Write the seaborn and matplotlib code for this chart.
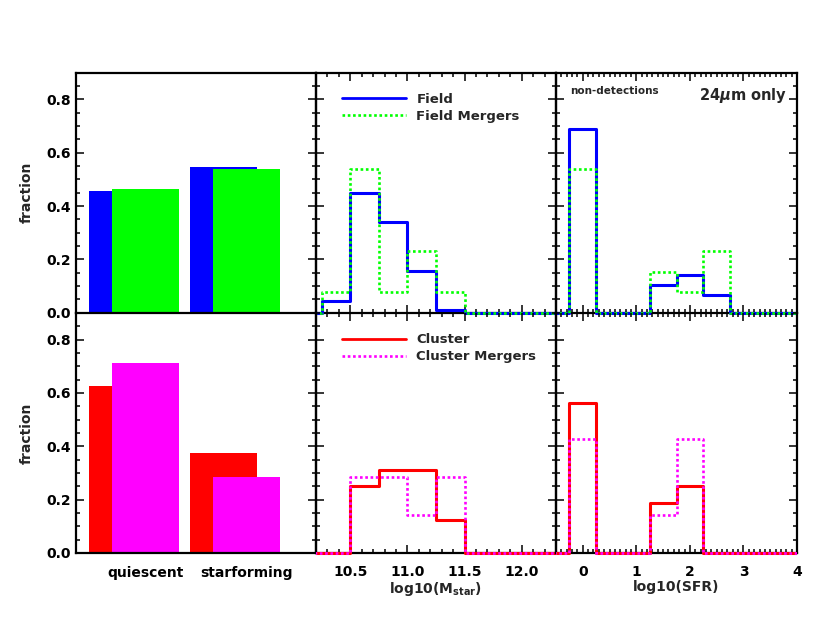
import numpy as np
import pandas as pd
import matplotlib
matplotlib.use('Agg')
import matplotlib.pyplot as plt
from matplotlib.lines import Line2D
from matplotlib.patches import Rectangle
from matplotlib.ticker import MultipleLocator, FormatStrFormatter, FixedLocator
import seaborn as sns

sns.set_style('ticks')
plt.rcParams['font.family'] = ['DejaVu Sans']
plt.rcParams['font.weight'] = 'bold'
plt.rcParams['axes.labelweight'] = 'bold'
plt.rcParams['font.size'] = 10
plt.rcParams['mathtext.fontset'] = 'custom'
plt.rcParams['mathtext.rm'] = 'DejaVu Sans:bold'
plt.rcParams['mathtext.it'] = 'DejaVu Sans:italic:bold'
plt.rcParams['mathtext.bf'] = 'DejaVu Sans:bold'

# fraction quiescent / starforming
types = ['quiescent', 'starforming']
field_type = [0.455, 0.545]
field_merg_type = [0.462, 0.538]
clus_type = [0.625, 0.375]
clus_merg_type = [0.714, 0.286]

# stellar mass histograms (bin centres, width 0.25)
mass_bins = [10.125, 10.375, 10.625, 10.875, 11.125, 11.375, 11.625, 11.875, 12.125, 12.375]
field_mass = [0.0, 0.045, 0.449, 0.341, 0.155, 0.010, 0.0, 0.0, 0.0, 0.0]
field_merg_mass = [0.0, 0.077, 0.538, 0.077, 0.231, 0.077, 0.0, 0.0, 0.0, 0.0]
clus_mass = [0.0, 0.0, 0.25, 0.3125, 0.3125, 0.125, 0.0, 0.0, 0.0, 0.0]
clus_merg_mass = [0.0, 0.0, 0.286, 0.286, 0.143, 0.286, 0.0, 0.0, 0.0, 0.0]

# SFR histograms (bin centres, width 0.5), bin 0 = non-detections
sfr_bins = [-0.5, 0.0, 0.5, 1.0, 1.5, 2.0, 2.5, 3.0, 3.5, 4.0]
field_sfr = [0.0, 0.688, 0.0, 0.0, 0.104, 0.142, 0.066, 0.0, 0.0, 0.0]
field_merg_sfr = [0.0, 0.538, 0.0, 0.0, 0.154, 0.077, 0.231, 0.0, 0.0, 0.0]
clus_sfr = [0.0, 0.5625, 0.0, 0.0, 0.1875, 0.25, 0.0, 0.0, 0.0, 0.0]
clus_merg_sfr = [0.0, 0.429, 0.0, 0.0, 0.143, 0.429, 0.0, 0.0, 0.0, 0.0]

BLUE, GREEN, RED, MAG = '#0000ff', '#00ff00', '#ff0000', '#ff00ff'
DOT = (0, (1, 1))

W, H = 830, 623
fig = plt.figure(figsize=(W / 100, H / 100), dpi=100)


def px_ax(x0, y0, w, h):
    ax = fig.add_axes([x0 / W, 1 - (y0 + h) / H, w / W, h / H])
    ax.set_facecolor('none')
    return ax


def step_hist(ax, centers, vals, color, ls, lw, z):
    c = np.array(centers)
    w = c[1] - c[0]
    edges = list(np.append(c - w / 2, c[-1] + w / 2))
    d = pd.DataFrame({'x': c, 'w': vals})
    n0 = len(ax.lines)
    sns.histplot(data=d, x='x', weights='w', bins=edges, element='step', fill=False,
                 color=color, linewidth=lw, linestyle=ls, ax=ax)
    # let the zero level show on top of the axis line
    for ln in ax.lines[n0:]:
        ln.set_zorder(z)
        ln.set_clip_path(Rectangle((0, -0.05), 1, 1.1, transform=ax.transAxes))
    ax.set_xlabel('')
    ax.set_ylabel('')


def style_ax(ax, xlab, ylab):
    for s in ax.spines.values():
        s.set_linewidth(1.6)
        s.set_color('black')
    if xlab:
        # top row already draws the shared edge
        ax.spines['top'].set_visible(False)
    ax.set_ylim(0, 0.9)
    ax.yaxis.set_major_locator(MultipleLocator(0.2))
    ax.yaxis.set_minor_locator(MultipleLocator(0.05))
    ax.yaxis.set_major_formatter(FormatStrFormatter('%.1f'))
    ax.tick_params(which='both', direction='in', left=True, right=True,
                   bottom=True, top=True, width=1.1, colors='black')
    ax.tick_params(which='major', length=6)
    ax.tick_params(which='minor', length=3)
    ax.tick_params(axis='x', pad=9, labelbottom=xlab, labelsize=10)
    ax.tick_params(axis='y', labelleft=ylab, labelsize=10)


rows_y = [72.7, 313]
cols_x = [76, 316, 556]
widths = [240, 240, 241]

sets = [
    (field_type, field_merg_type, field_mass, field_merg_mass, field_sfr, field_merg_sfr,
     BLUE, GREEN, ['Field', 'Field Mergers']),
    (clus_type, clus_merg_type, clus_mass, clus_merg_mass, clus_sfr, clus_merg_sfr,
     RED, MAG, ['Cluster', 'Cluster Mergers']),
]

xpos = np.arange(len(types))
for r, (t1, t2, m1, m2, s1, s2, c1, c2, labs) in enumerate(sets):
    bottom_row = (r == 1)

    # type fractions
    ax = px_ax(cols_x[0], rows_y[r], widths[0], 240)
    ax.bar(xpos - 0.56, t1, width=0.66, align='edge', color=c1, linewidth=0)
    ax.bar(xpos - 0.33, t2, width=0.66, align='edge', color=c2, linewidth=0)
    style_ax(ax, bottom_row, True)
    ax.set_xlim(-0.69, 1.69)
    ax.xaxis.set_major_locator(FixedLocator(xpos))
    ax.set_xticklabels(types)
    ax.tick_params(axis='x', top=False)
    ax.set_ylabel('fraction', fontsize=10, labelpad=9)

    # stellar mass
    ax = px_ax(cols_x[1], rows_y[r], widths[1], 240)
    step_hist(ax, mass_bins, m1, c1, '-', 2.2, 3)
    step_hist(ax, mass_bins, m2, c2, DOT, 1.9, 3.1)
    style_ax(ax, bottom_row, False)
    ax.set_xlim(10.2, 12.3)
    ax.xaxis.set_major_locator(MultipleLocator(0.5))
    ax.xaxis.set_minor_locator(MultipleLocator(0.1))
    ax.xaxis.set_major_formatter(FormatStrFormatter('%.1f'))
    handles = [Line2D([], [], color=c1, lw=2.0, ls='-'),
               Line2D([], [], color=c2, lw=1.9, ls=DOT)]
    ax.legend(handles, labs, loc='upper left', bbox_to_anchor=(0.11, 0.915),
              frameon=False, fontsize=9.5, handlelength=4.8, handletextpad=0.8,
              labelspacing=0.3, borderpad=0, borderaxespad=0)
    if bottom_row:
        ax.set_xlabel(r'log10(M$_{\rm star}$)', fontsize=10, labelpad=0)

    # SFR
    ax = px_ax(cols_x[2], rows_y[r], widths[2], 240)
    step_hist(ax, sfr_bins, s1, c1, '-', 2.2, 3)
    step_hist(ax, sfr_bins, s2, c2, DOT, 1.9, 3.1)
    style_ax(ax, bottom_row, False)
    ax.set_xlim(-0.5, 4.0)
    ax.xaxis.set_major_locator(MultipleLocator(1))
    ax.xaxis.set_minor_locator(MultipleLocator(0.1))
    ax.xaxis.set_major_formatter(FormatStrFormatter('%d'))
    if bottom_row:
        ax.set_xlabel('log10(SFR)', fontsize=10, labelpad=0)
    else:
        ax.text(0.06, 0.925, 'non-detections', transform=ax.transAxes,
                fontsize=7.5, ha='left', va='center')
        ax.text(0.96, 0.905, r'24$\mu$m only', transform=ax.transAxes,
                fontsize=10.5, ha='right', va='center')

fig.savefig('out.png', dpi=100)
